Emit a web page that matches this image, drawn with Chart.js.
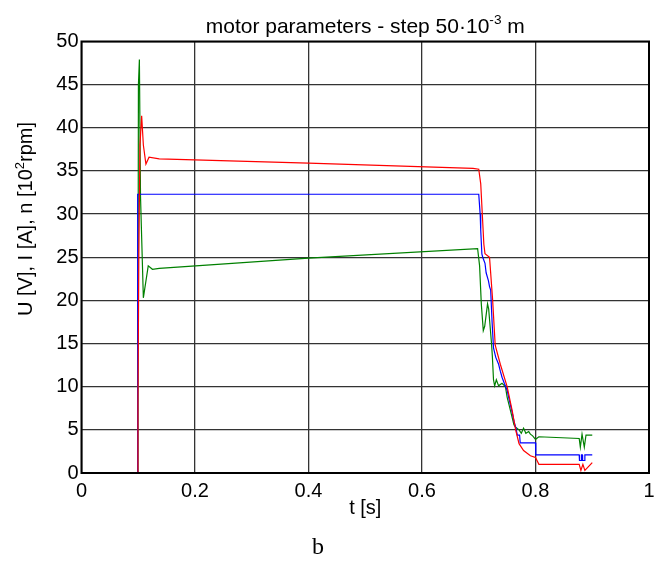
<!DOCTYPE html>
<html>
<head>
<meta charset="utf-8">
<script src="https://cdn.jsdelivr.net/npm/chart.js@4.4.0/dist/chart.umd.min.js"></script>
<style>
  html, body { margin: 0; padding: 0; background: #fff; }
</style>
</head>
<body>
<canvas id="chart" width="667" height="562"></canvas>
<script>
// supply voltage U [V]
const uTime = [0, 0.0987, 0.099, 0.700, 0.7025, 0.7035, 0.7055, 0.707, 0.711, 0.713, 0.717, 0.719, 0.721, 0.7235, 0.726, 0.730, 0.735, 0.738, 0.741, 0.745, 0.750, 0.754, 0.759, 0.762, 0.765, 0.768, 0.772, 0.773, 0.800, 0.8005, 0.877, 0.8775, 0.8805, 0.881, 0.8825, 0.883, 0.8865, 0.887, 0.900];
const uValues = [0, 0, 32.3, 32.3, 30.0, 28.1, 25.4, 25.0, 24.3, 23.2, 22.3, 21.6, 21.2, 17.5, 14.5, 13.4, 12.6, 11.8, 11.1, 10.4, 9.6, 8.4, 7.0, 6.0, 5.3, 4.4, 4.4, 3.5, 3.5, 2.1, 2.1, 1.45, 1.45, 2.1, 2.1, 1.45, 1.45, 2.1, 2.1];

// motor current I [A]
const iTime = [0, 0.0987, 0.0995, 0.101, 0.103, 0.106, 0.109, 0.1135, 0.119, 0.137, 0.4, 0.69, 0.700, 0.7035, 0.709, 0.711, 0.719, 0.7245, 0.729, 0.738, 0.750, 0.759, 0.765, 0.771, 0.779, 0.791, 0.800, 0.806, 0.877, 0.880, 0.8835, 0.887, 0.900];
const iValues = [0, 0, 8, 25, 38, 41.4, 38, 35.8, 36.6, 36.4, 35.9, 35.3, 35.2, 33.5, 26.5, 25.4, 25.0, 20.0, 14.8, 12.6, 10.0, 7.2, 5.0, 3.4, 2.6, 2.0, 1.8, 1.0, 1.0, 0.3, 1.0, 0.3, 1.2];

// rotational speed n [10^2 rpm]
const nTime = [0, 0.0987, 0.0995, 0.1003, 0.102, 0.104, 0.109, 0.1176, 0.125, 0.137, 0.4, 0.698, 0.7015, 0.7045, 0.708, 0.7105, 0.7155, 0.7175, 0.7225, 0.724, 0.726, 0.728, 0.731, 0.735, 0.741, 0.747, 0.750, 0.756, 0.762, 0.765, 0.771, 0.775, 0.779, 0.783, 0.788, 0.791, 0.795, 0.800, 0.806, 0.877, 0.879, 0.882, 0.886, 0.889, 0.900];
const nValues = [0, 0, 12, 45, 47.9, 32, 20.3, 24.0, 23.6, 23.7, 24.9, 26.0, 24.0, 19.6, 16.5, 17.0, 19.6, 19.0, 15.0, 13.5, 10.8, 10.1, 10.8, 10.1, 10.4, 10.0, 8.8, 7.2, 5.6, 5.3, 5.0, 4.6, 5.2, 4.6, 4.8, 4.5, 4.3, 3.9, 4.2, 4.0, 3.0, 4.5, 3.0, 4.4, 4.4];

const xTicks = [0, 0.2, 0.4, 0.6, 0.8, 1];
const yTicks = [0, 5, 10, 15, 20, 25, 30, 35, 40, 45, 50];

const toPoints = (ts, vs) => ts.map((t, k) => ({ x: t, y: vs[k] }));

Chart.defaults.font.family = '"Liberation Sans", Arial, sans-serif';
Chart.defaults.font.size = 20;
Chart.defaults.color = '#000';

// text with raised parts, e.g. 10^-3
function drawRich(ctx, parts, size) {
    let total = 0;
    parts.forEach(p => {
        ctx.font = (p[1] ? size * 0.65 : size) + 'px "Liberation Sans", Arial, sans-serif';
        total += ctx.measureText(p[0]).width;
    });
    let x = -total / 2;
    parts.forEach(p => {
        const s = p[1] ? size * 0.65 : size;
        ctx.font = s + 'px "Liberation Sans", Arial, sans-serif';
        ctx.fillText(p[0], x, p[1] ? -size * 0.42 : 0);
        x += ctx.measureText(p[0]).width;
    });
}

const decorations = {
    id: 'decorations',
    afterDraw(chart) {
        const ctx = chart.ctx;
        const a = chart.chartArea;
        ctx.save();
        ctx.strokeStyle = '#000';
        ctx.lineWidth = 2;
        ctx.strokeRect(a.left, a.top, a.right - a.left, a.bottom - a.top);

        ctx.fillStyle = '#000';
        ctx.textBaseline = 'alphabetic';
        ctx.textAlign = 'left';

        ctx.save();
        ctx.translate((a.left + a.right) / 2, 33);
        drawRich(ctx, [['motor parameters - step 50·10', false], ['-3', true], [' m', false]], 21);
        ctx.restore();

        ctx.save();
        ctx.translate(32, 219);
        ctx.rotate(-Math.PI / 2);
        drawRich(ctx, [['U [V], I [A], n [10', false], ['2', true], ['rpm]', false]], 20);
        ctx.restore();

        ctx.save();
        ctx.translate((a.left + a.right) / 2, 514);
        drawRich(ctx, [['t [s]', false]], 20);
        ctx.restore();

        ctx.font = '24px "Liberation Serif", "Times New Roman", serif';
        ctx.textAlign = 'center';
        ctx.fillText('b', 318, 554);
        ctx.restore();
    }
};

new Chart(document.getElementById('chart'), {
    type: 'line',
    data: {
        datasets: [
            { label: 'I', data: toPoints(iTime, iValues), borderColor: '#ff0000' },
            { label: 'U', data: toPoints(uTime, uValues), borderColor: '#0000ff' },
            { label: 'n', data: toPoints(nTime, nValues), borderColor: '#008000' }
        ]
    },
    options: {
        responsive: false,
        animation: false,
        layout: { padding: { top: 41.5, right: 18, left: 0, bottom: 0 } },
        elements: {
            line: { borderWidth: 1.2, tension: 0, fill: false },
            point: { radius: 0, hoverRadius: 0 }
        },
        plugins: {
            legend: { display: false },
            tooltip: { enabled: false }
        },
        scales: {
            x: {
                type: 'linear',
                min: 0,
                max: 1,
                afterBuildTicks: s => { s.ticks = xTicks.map(v => ({ value: v })); },
                afterFit: s => { s.height = 89; },
                ticks: { padding: 6, maxRotation: 0, callback: v => String(v) },
                grid: { color: '#333', lineWidth: 1.3, drawTicks: false },
                border: { display: false }
            },
            y: {
                min: 0,
                max: 50,
                afterBuildTicks: s => { s.ticks = yTicks.map(v => ({ value: v })); },
                afterFit: s => { s.width = 81.5; },
                ticks: { padding: 3, callback: v => String(v) },
                grid: { color: '#333', lineWidth: 1.3, drawTicks: false },
                border: { display: false }
            }
        }
    },
    plugins: [decorations]
});
</script>
</body>
</html>
